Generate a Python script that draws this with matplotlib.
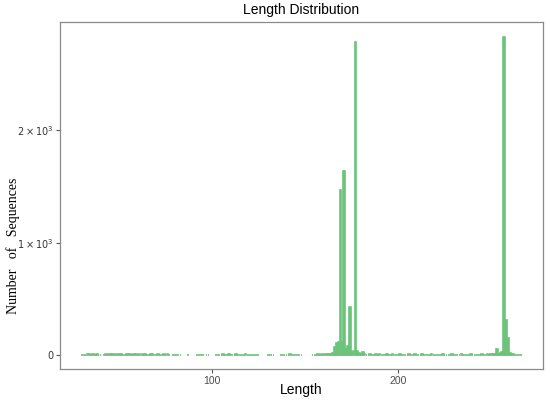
import matplotlib
matplotlib.use("Agg")
import matplotlib.pyplot as plt

# ==============================
# DATA
# ==============================
lengths = (
    list(range(30, 41)) + list(range(42, 78)) + list(range(79, 84)) + [87]
    + list(range(92, 96)) + [97, 98] + list(range(102, 126))
    + list(range(130, 134)) + list(range(137, 149)) + list(range(154, 267))
)

counts = (
    [3, 5, 4, 6, 8, 5, 7, 4, 6, 5, 3]
    + [4, 6, 5, 7, 9, 6, 8, 5, 7, 6, 4, 5, 8, 6, 7, 5, 9, 6, 4, 7, 5, 6,
       8, 5, 4, 6, 7, 5, 3, 6, 4, 5, 7, 4, 6, 3]
    + [3, 4, 2, 3, 2]
    + [2]
    + [2, 3, 2, 2]
    + [2, 3]
    + [3, 4, 5, 3, 6, 4, 5, 7, 4, 3, 5, 6, 4, 5, 3, 4, 6, 5, 4, 3, 5, 4, 3, 2]
    + [2, 3, 2, 3]
    + [3, 4, 3, 5, 4, 6, 5, 4, 3, 5, 4, 3]
    # 154 - 164
    + [3, 4, 5, 12, 4, 6, 5, 7, 6, 8, 10]
    # 165 - 182 (main cluster)
    + [20, 70, 110, 120, 1470, 120, 1640, 50, 80, 430, 30, 40, 2790, 40,
       20, 10, 30, 10]
    # 183 - 252
    + [5, 4, 6, 3, 5, 7, 4, 6, 5, 3, 4, 6, 5, 4, 7, 5, 3, 4, 6, 5,
       4, 5, 3, 6, 4, 5, 7, 4, 3, 5, 6, 4, 5, 3, 4, 6, 5, 4, 3, 5,
       4, 6, 5, 3, 4, 5, 6, 4, 3, 5, 4, 6, 5, 4, 3, 5, 6, 4, 5, 3,
       4, 5, 6, 4, 5, 7, 5, 6, 8, 9]
    # 253 - 266 (second peak)
    + [55, 10, 15, 30, 2830, 310, 150, 20, 8, 6, 5, 4, 3, 2]
)

y_ticks = [0, 1000, 2000]
y_tick_labels = ["0", r"$1\times10^3$", r"$2\times10^3$"]
x_ticks = [100, 200]

bar_color = "#6cc47a"
frame_color = "#8a8a8a"

# ==============================
# PLOT
# ==============================
fig = plt.figure(figsize=(5.5, 4), dpi=100)
ax = fig.add_axes([0.109, 0.0775, 0.878, 0.8675])

ax.bar(lengths, counts, width=0.9, color=bar_color,
       edgecolor=bar_color, linewidth=1.2)

ax.set_xlim(18.2, 277.8)
ax.set_ylim(-124, 2965)

ax.set_xticks(x_ticks)
ax.set_xticklabels([str(t) for t in x_ticks], fontsize=7.5,
                   color="#4d4d4d", family="Liberation Sans")
ax.set_yticks(y_ticks)
ax.set_yticklabels(y_tick_labels, fontsize=7, color="#333333")

ax.tick_params(axis="both", direction="out", length=3, width=0.8,
               color="#555555", pad=2)

for side in ["top", "right", "bottom", "left"]:
    ax.spines[side].set_color(frame_color)
    ax.spines[side].set_linewidth(0.9)

# labels placed by hand (figure pixels -> fractions)
fig.text(301 / 550, 1 - 10 / 400, "Length Distribution", fontsize=10,
         family="Liberation Sans", ha="center", va="center")
fig.text(301 / 550, 1 - 390 / 400, "Length", fontsize=10,
         family="Liberation Sans", ha="center", va="center")
fig.text(13 / 550, 1 - 246 / 400, "Number   of   Sequences", fontsize=10,
         family="Liberation Serif", rotation=90, ha="center", va="center")

fig.savefig("out.png", dpi=100)
